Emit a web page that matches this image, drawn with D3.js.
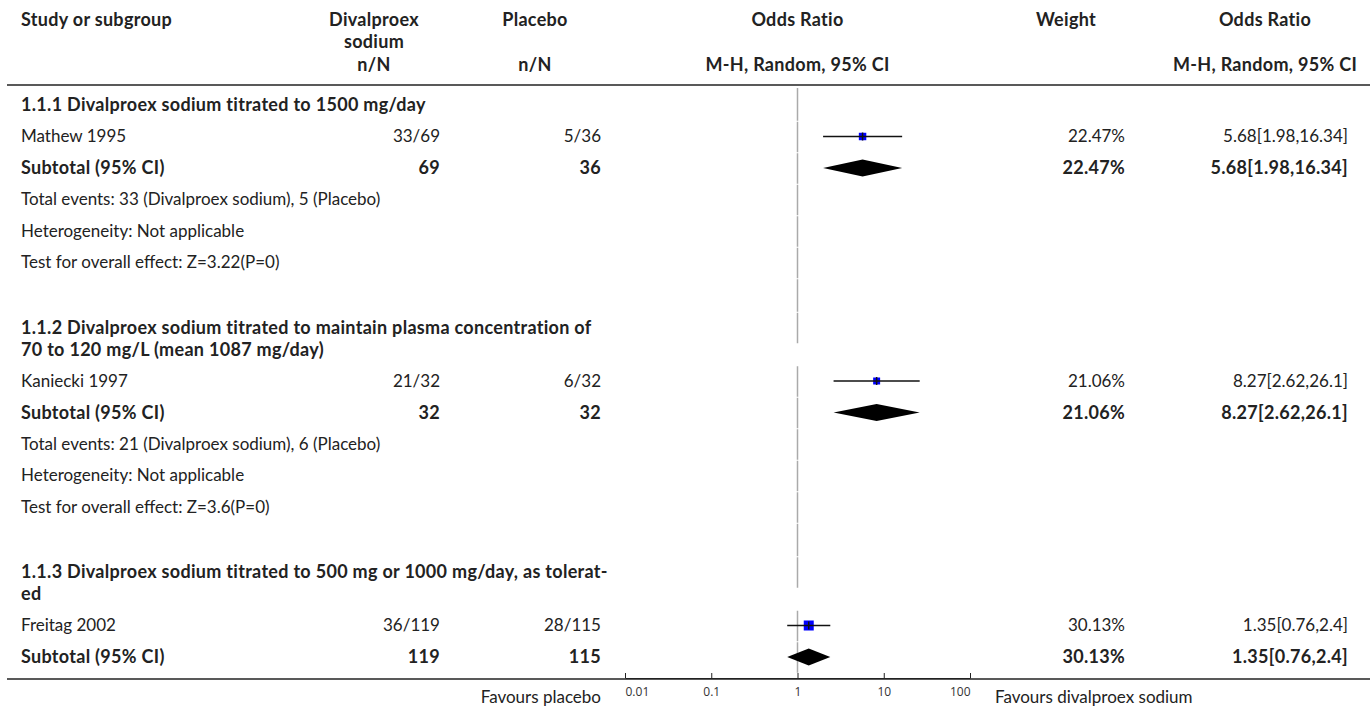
<!DOCTYPE html>
<html>
<head>
<meta charset="utf-8">
<script src="https://cdn.jsdelivr.net/npm/d3@7"></script>
<style>
  body { margin: 0; background: #fff; }
  text { font-family: Lato, "Noto Sans", sans-serif; fill: #222; }
  .bold { font-weight: bold; font-size: 18px; letter-spacing: 0.3px; }
</style>
</head>
<body>
<script>
// values
const groupTitles = [
  ["1.1.1 Divalproex sodium titrated to 1500 mg/day"],
  ["1.1.2 Divalproex sodium titrated to maintain plasma concentration of",
   "70 to 120 mg/L (mean 1087 mg/day)"],
  ["1.1.3 Divalproex sodium titrated to 500 mg or 1000 mg/day, as tolerat-",
   "ed"]
];
const studyNames = ["Mathew 1995", "Kaniecki 1997", "Freitag 2002"];
const treatEvents = [33, 21, 36];
const treatTotal = [69, 32, 119];
const ctrlEvents = [5, 6, 28];
const ctrlTotal = [36, 32, 115];
const weights = [22.47, 21.06, 30.13];
const oddsRatio = [5.68, 8.27, 1.35];
const ciLow = [1.98, 2.62, 0.76];
const ciHigh = [16.34, 26.1, 2.4];
const zValues = ["3.22", "3.6"];
const tickValues = [0.01, 0.1, 1, 10, 100];

function draw(){
  const width = 1370, height = 708;
  const rowStep = 31.5, lineStep = 22, spacer = 33.5;
  const headerLine = 85;

  const svg = d3.select('body')
    .append('svg')
    .attr('width', width)
    .attr('height', height);

  const x = d3.scaleLog()
    .domain([0.01, 100])
    .range([625, 970]);

  const boxSize = d3.scaleLinear()
    .domain([0, d3.max(weights)])
    .range([0, 10]);

  // column anchors
  const col = {study: 21, treat: 440, ctrl: 601, weight: 1125, or: 1348};

  // build the row list
  const rows = [];
  groupTitles.forEach((title, g) => {
    rows.push({type: 'head', lines: title});
    rows.push({type: 'study', g: g,
      cells: [studyNames[g], treatEvents[g] + '/' + treatTotal[g], ctrlEvents[g] + '/' + ctrlTotal[g],
              weights[g] + '%', oddsRatio[g] + '[' + ciLow[g] + ',' + ciHigh[g] + ']']});
    rows.push({type: 'sub', g: g,
      cells: ['Subtotal (95% CI)', treatTotal[g], ctrlTotal[g],
              weights[g] + '%', oddsRatio[g] + '[' + ciLow[g] + ',' + ciHigh[g] + ']']});
    if (g < zValues.length) {
      rows.push({type: 'note', text: 'Total events: ' + treatEvents[g] + ' (Divalproex sodium), ' + ctrlEvents[g] + ' (Placebo)'});
      rows.push({type: 'note', text: 'Heterogeneity: Not applicable'});
      rows.push({type: 'note', text: 'Test for overall effect: Z=' + zValues[g] + '(P=0)'});
      rows.push({type: 'gap'});
    }
  });

  // vertical positions
  let cy = 105;
  rows.forEach(r => {
    if (r.type === 'gap') {
      r.top = cy - rowStep / 2;
      r.bottom = r.top + spacer;
      cy += spacer;
      return;
    }
    r.y = cy;
    r.top = cy - rowStep / 2;
    r.bottom = cy + rowStep / 2;
    const n = r.lines ? r.lines.length : 1;
    cy += rowStep + lineStep * (n - 1);
  });

  // line of no effect, one piece per row
  svg.append('g')
    .selectAll('line')
    .data(rows)
    .enter()
    .append('line')
    .attr('x1', x(1)).attr('x2', x(1))
    .attr('y1', (d, i) => i === 0 ? headerLine + 3 : d.top + 1)
    .attr('y2', d => d.bottom)
    .attr('stroke', '#aaa')
    .attr('stroke-width', 1.5);

  // column headers
  const head = svg.append('g').attr('class', 'bold');
  const headers = [
    {t: 'Study or subgroup', x: col.study, y: 20, a: 'start'},
    {t: 'Divalproex', x: 374, y: 20, a: 'middle'},
    {t: 'sodium', x: 374, y: 42, a: 'middle'},
    {t: 'n/N', x: 374, y: 65, a: 'middle'},
    {t: 'Placebo', x: 535, y: 20, a: 'middle'},
    {t: 'n/N', x: 535, y: 65, a: 'middle'},
    {t: 'Odds Ratio', x: x(1), y: 20, a: 'middle'},
    {t: 'M-H, Random, 95% CI', x: x(1), y: 65, a: 'middle'},
    {t: 'Weight', x: 1066, y: 20, a: 'middle'},
    {t: 'Odds Ratio', x: 1265, y: 20, a: 'middle'},
    {t: 'M-H, Random, 95% CI', x: 1265, y: 65, a: 'middle'}
  ];
  head.selectAll('text')
    .data(headers)
    .enter()
    .append('text')
    .attr('x', d => d.x)
    .attr('y', d => d.y)
    .attr('dy', '0.35em')
    .attr('text-anchor', d => d.a)
    .text(d => d.t);

  svg.append('line')
    .attr('x1', 7).attr('x2', width)
    .attr('y1', headerLine).attr('y2', headerLine)
    .attr('stroke', '#222').attr('stroke-width', 1.5);

  // table text
  const body = svg.append('g').attr('font-size', '17px');
  rows.forEach(r => {
    if (r.type === 'head') {
      r.lines.forEach((l, i) => {
        body.append('text')
          .attr('class', 'bold')
          .attr('x', col.study).attr('y', r.y + i * lineStep)
          .attr('dy', '0.35em')
          .text(l);
      });
    } else if (r.type === 'note') {
      body.append('text')
        .attr('x', col.study).attr('y', r.y)
        .attr('dy', '0.35em')
        .text(r.text);
    } else if (r.type === 'study' || r.type === 'sub') {
      const xs = [col.study, col.treat, col.ctrl, col.weight, col.or];
      r.cells.forEach((c, i) => {
        body.append('text')
          .attr('class', r.type === 'sub' ? 'bold' : null)
          .attr('x', xs[i]).attr('y', r.y)
          .attr('dy', '0.35em')
          .attr('text-anchor', i === 0 ? 'start' : 'end')
          .text(c);
      });
    }
  });

  // study markers
  const studyRows = rows.filter(r => r.type === 'study');
  const marks = svg.append('g');
  marks.selectAll('rect')
    .data(studyRows)
    .enter()
    .append('rect')
    .attr('x', d => x(oddsRatio[d.g]) - boxSize(weights[d.g]) / 2)
    .attr('y', d => d.y - boxSize(weights[d.g]) / 2)
    .attr('width', d => boxSize(weights[d.g]))
    .attr('height', d => boxSize(weights[d.g]))
    .attr('fill', '#0000ff');
  marks.selectAll('line.ci')
    .data(studyRows)
    .enter()
    .append('line')
    .attr('class', 'ci')
    .attr('x1', d => x(ciLow[d.g]))
    .attr('x2', d => x(ciHigh[d.g]))
    .attr('y1', d => d.y).attr('y2', d => d.y)
    .attr('stroke', '#111').attr('stroke-width', 1.5);
  marks.selectAll('line.pt')
    .data(studyRows)
    .enter()
    .append('line')
    .attr('class', 'pt')
    .attr('x1', d => x(oddsRatio[d.g]))
    .attr('x2', d => x(oddsRatio[d.g]))
    .attr('y1', d => d.y - 4).attr('y2', d => d.y + 4)
    .attr('stroke', '#111').attr('stroke-width', 1.5);

  // subtotal diamonds
  const subRows = rows.filter(r => r.type === 'sub');
  marks.selectAll('path')
    .data(subRows)
    .enter()
    .append('path')
    .attr('d', d => {
      const l = x(ciLow[d.g]), m = x(oddsRatio[d.g]), h = x(ciHigh[d.g]);
      return 'M' + l + ',' + d.y + 'L' + m + ',' + (d.y - 8.5) + 'L' + h + ',' + d.y + 'L' + m + ',' + (d.y + 8.5) + 'Z';
    })
    .attr('fill', '#000');

  // bottom rule and axis
  const axisY = 678;
  svg.append('line')
    .attr('x1', 7).attr('x2', width)
    .attr('y1', axisY + 1).attr('y2', axisY + 1)
    .attr('stroke', '#222').attr('stroke-width', 1.5);

  const xAxis = d3.axisBottom(x)
    .tickValues(tickValues)
    .tickFormat(d => d)
    .tickSizeInner(-5)
    .tickSizeOuter(0)
    .tickPadding(9);

  const ax = svg.append('g')
    .attr('transform', 'translate(0,' + axisY + ')')
    .call(xAxis);
  ax.selectAll('text')
    .attr('text-anchor', (d, i) => i === 0 ? 'start' : (i === tickValues.length - 1 ? 'end' : 'middle'))
    .style('font-family', '"Open Sans", sans-serif')
    .style('font-size', '12px')
    .style('fill', '#333');
  ax.selectAll('line, path').attr('stroke', '#222');

  svg.append('text')
    .attr('x', col.ctrl).attr('y', 697)
    .attr('dy', '0.35em')
    .attr('text-anchor', 'end')
    .attr('font-size', '17px')
    .text('Favours placebo');
  svg.append('text')
    .attr('x', 995).attr('y', 697)
    .attr('dy', '0.35em')
    .attr('font-size', '17px')
    .text('Favours divalproex sodium');
}

draw();
</script>
</body>
</html>
